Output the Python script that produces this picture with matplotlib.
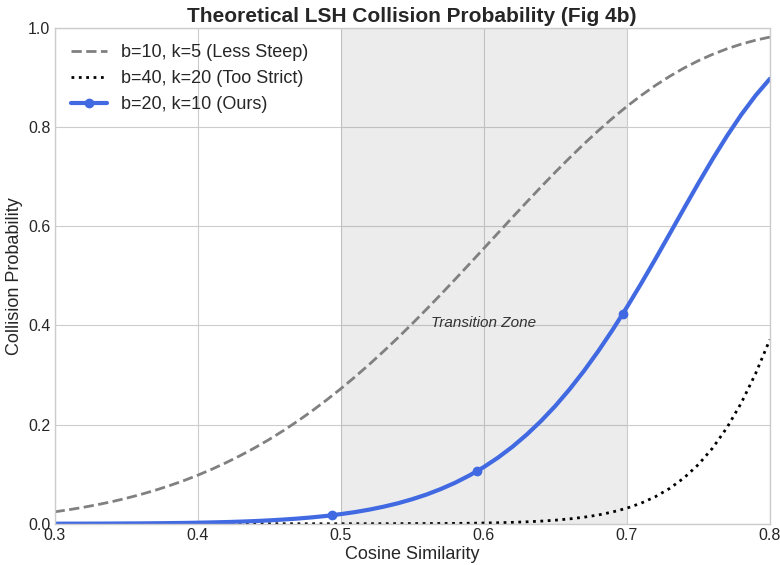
import matplotlib
matplotlib.use('Agg')
import matplotlib.pyplot as plt

plt.style.use('seaborn-v0_8-whitegrid')
plt.rcParams['font.family'] = ['Liberation Sans', 'DejaVu Sans']

# values, every 0.01 of cosine similarity
sim = [0.30, 0.31, 0.32, 0.33, 0.34, 0.35, 0.36, 0.37, 0.38, 0.39,
       0.40, 0.41, 0.42, 0.43, 0.44, 0.45, 0.46, 0.47, 0.48, 0.49,
       0.50, 0.51, 0.52, 0.53, 0.54, 0.55, 0.56, 0.57, 0.58, 0.59,
       0.60, 0.61, 0.62, 0.63, 0.64, 0.65, 0.66, 0.67, 0.68, 0.69,
       0.70, 0.71, 0.72, 0.73, 0.74, 0.75, 0.76, 0.77, 0.78, 0.79, 0.80]
p_less_steep = [0.0240, 0.0283, 0.0331, 0.0385, 0.0445, 0.0513, 0.0589, 0.0672, 0.0765, 0.0866,
                0.0978, 0.1100, 0.1233, 0.1377, 0.1532, 0.1699, 0.1879, 0.2071, 0.2275, 0.2492,
                0.2720, 0.2961, 0.3213, 0.3477, 0.3750, 0.4033, 0.4325, 0.4623, 0.4928, 0.5237,
                0.5549, 0.5862, 0.6175, 0.6484, 0.6789, 0.7087, 0.7376, 0.7655, 0.7922, 0.8175,
                0.8412, 0.8633, 0.8836, 0.9020, 0.9187, 0.9334, 0.9463, 0.9574, 0.9669, 0.9747,
                0.9811]
p_too_strict = [0.0, 0.0, 0.0, 0.0, 0.0, 0.0, 0.0, 0.0, 0.0, 0.0,
                0.0, 0.0, 0.0, 0.0, 0.0, 0.0, 0.0, 0.0, 0.0, 0.0,
                0.0000, 0.0001, 0.0001, 0.0001, 0.0002, 0.0003, 0.0004, 0.0005, 0.0007, 0.0010,
                0.0015, 0.0020, 0.0028, 0.0039, 0.0053, 0.0072, 0.0098, 0.0132, 0.0177, 0.0237,
                0.0314, 0.0415, 0.0546, 0.0713, 0.0925, 0.1193, 0.1527, 0.1937, 0.2434, 0.3025,
                0.3712]
p_ours = [0.0001, 0.0002, 0.0002, 0.0003, 0.0004, 0.0006, 0.0007, 0.0010, 0.0013, 0.0016,
          0.0021, 0.0027, 0.0034, 0.0043, 0.0054, 0.0068, 0.0085, 0.0105, 0.0129, 0.0158,
          0.0194, 0.0235, 0.0285, 0.0344, 0.0413, 0.0495, 0.0589, 0.0700, 0.0827, 0.0974,
          0.1142, 0.1334, 0.1551, 0.1796, 0.2070, 0.2374, 0.2711, 0.3079, 0.3478, 0.3906,
          0.4363, 0.4841, 0.5338, 0.5846, 0.6357, 0.6863, 0.7352, 0.7817, 0.8246, 0.8632,
          0.8969]
marker_x = [0.494, 0.5955, 0.697]
marker_y = [0.017, 0.106, 0.422]

fig, ax = plt.subplots(figsize=(7.8, 5.65), dpi=100)

ax.axvspan(0.5, 0.7, color='gray', alpha=0.15, lw=0)
ax.plot(sim, p_less_steep, '--', color='gray', lw=2, label='b=10, k=5 (Less Steep)')
ax.plot(sim, p_too_strict, ':', color='black', lw=2, label='b=40, k=20 (Too Strict)')
ax.plot(sim, p_ours, '-', color='royalblue', lw=3)
ax.plot(marker_x, marker_y, 'o', color='royalblue', ms=6)
# legend handle for our curve (line + dot)
ax.plot([], [], '-o', color='royalblue', lw=3, ms=6, label='b=20, k=10 (Ours)')

ax.text(0.6, 0.405, 'Transition Zone', ha='center', va='center', style='italic',
        fontsize=11, color='#333333')

ax.set_xlim(0.3, 0.8)
ax.set_ylim(0, 1.0)
ax.set_xlabel('Cosine Similarity', fontsize=13, labelpad=2)
ax.set_ylabel('Collision Probability', fontsize=13)
ax.set_title('Theoretical LSH Collision Probability (Fig 4b)', fontsize=15,
             fontweight='bold', pad=4)
ax.tick_params(labelsize=11.5, pad=3)
ax.legend(loc='upper left', fontsize=13, frameon=False)

fig.subplots_adjust(left=0.07, right=0.987, top=0.951, bottom=0.073)
fig.savefig('out.png', dpi=100)
